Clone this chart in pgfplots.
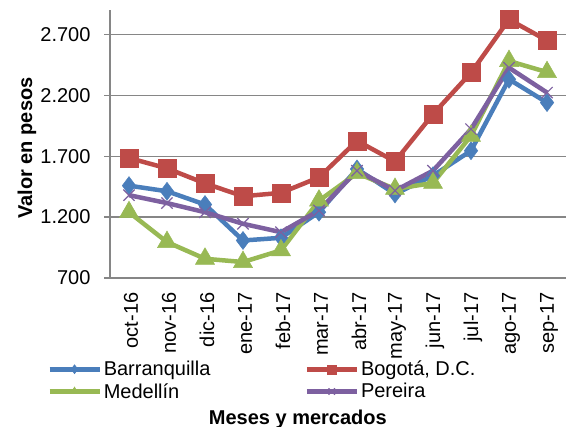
\documentclass[border=0pt]{standalone}
\usepackage{pgfplots}
\pgfplotsset{compat=1.18}
\usepackage{fontspec}
\setmainfont{Liberation Sans}
\definecolor{cBlue}{HTML}{4A7EBB}
\definecolor{cRed}{HTML}{BE4B48}
\definecolor{cGreen}{HTML}{98B954}
\definecolor{cPurple}{HTML}{7D60A0}
\definecolor{cGrid}{HTML}{868686}
\newcommand{\ff}{\fontsize{20}{24}\selectfont}
\begin{document}
\begin{tikzpicture}
\begin{axis}[
  name=ax,
  scale only axis,
  width=456pt, height=268pt,
  xmin=-0.5, xmax=11.5,
  ymin=700, ymax=2900,
  axis lines*=left,
  axis line style={-, draw=cGrid, line width=1.2pt},
  x axis line style={draw=none},
  ymajorgrids,
  grid style={draw=cGrid, line width=1.2pt},
  xtick style={draw=none},
  ytick style={draw=cGrid, line width=1.2pt},
  tick align=outside,
  major tick length=6pt,
  ytick={700,1200,1700,2200,2700},
  yticklabels={700,1.200,1.700,2.200,2.700},
  xtick={0,...,11},
  xticklabels={oct-16,nov-16,dic-16,ene-17,feb-17,mar-17,abr-17,may-17,jun-17,jul-17,ago-17,sep-17},
  xticklabel style={rotate=90, anchor=east, font=\ff, xshift=-5pt, yshift=-2pt},
  yticklabel style={font=\ff, xshift=-10pt},
  every axis y label/.style={at={(axis description cs:-0.182,0.485)}, rotate=90, anchor=center, font=\ff\bfseries},
  every axis x label/.style={at={(axis description cs:0.412,-0.545)}, anchor=base, font=\ff\bfseries},
  ylabel={Valor en pesos},
  xlabel={Meses y mercados},
  legend style={at={(axis description cs:-0.138,-0.302)}, anchor=north west, draw=none, fill=none, font=\ff,
    inner sep=0pt, legend columns=2, row sep=2pt,
    /tikz/every even column/.append style={column sep=92pt}},
  legend cell align=left,
  legend image code/.code={\draw[mark repeat=2,mark phase=2,#1,mark size=4.5pt] plot coordinates {(0pt,0pt) (25pt,0pt) (50pt,0pt)};},
  clip=false,
]
\addplot[cBlue, line width=4.5pt, mark=diamond*, mark size=9pt, mark options={fill=cBlue, draw=cBlue, line width=0.5pt}] coordinates {
(0,1458) (1,1412) (2,1303) (3,1008) (4,1030) (5,1240) (6,1595) (7,1390) (8,1540) (9,1745) (10,2331) (11,2140)};
\addlegendentry{Barranquilla}
\addplot[cRed, line width=4.5pt, mark=square*, mark size=9pt, mark options={fill=cRed, draw=cRed, line width=0.5pt}] coordinates {
(0,1685) (1,1600) (2,1477) (3,1371) (4,1399) (5,1526) (6,1826) (7,1657) (8,2045) (9,2385) (10,2822) (11,2650)};
\addlegendentry{Bogotá, D.C.}
\addplot[cGreen, line width=4.5pt, mark=triangle*, mark size=11pt, mark options={fill=cGreen, draw=cGreen, line width=0.5pt}] coordinates {
(0,1240) (1,995) (2,858) (3,831) (4,927) (5,1335) (6,1560) (7,1431) (8,1480) (9,1867) (10,2481) (11,2390)};
\addlegendentry{Medellín}
\addplot[cPurple, line width=4.5pt, mark=x, mark size=8pt, mark options={draw=cPurple, line width=1.2pt}] coordinates {
(0,1380) (1,1315) (2,1240) (3,1145) (4,1076) (5,1254) (6,1581) (7,1417) (8,1581) (9,1922) (10,2426) (11,2222)};
\addlegendentry{Pereira}
\end{axis}
\pgfresetboundingbox
\path ([xshift=-110pt,yshift=-149pt]ax.south west) rectangle ([yshift=10pt]ax.north east);
\end{tikzpicture}
\end{document}
